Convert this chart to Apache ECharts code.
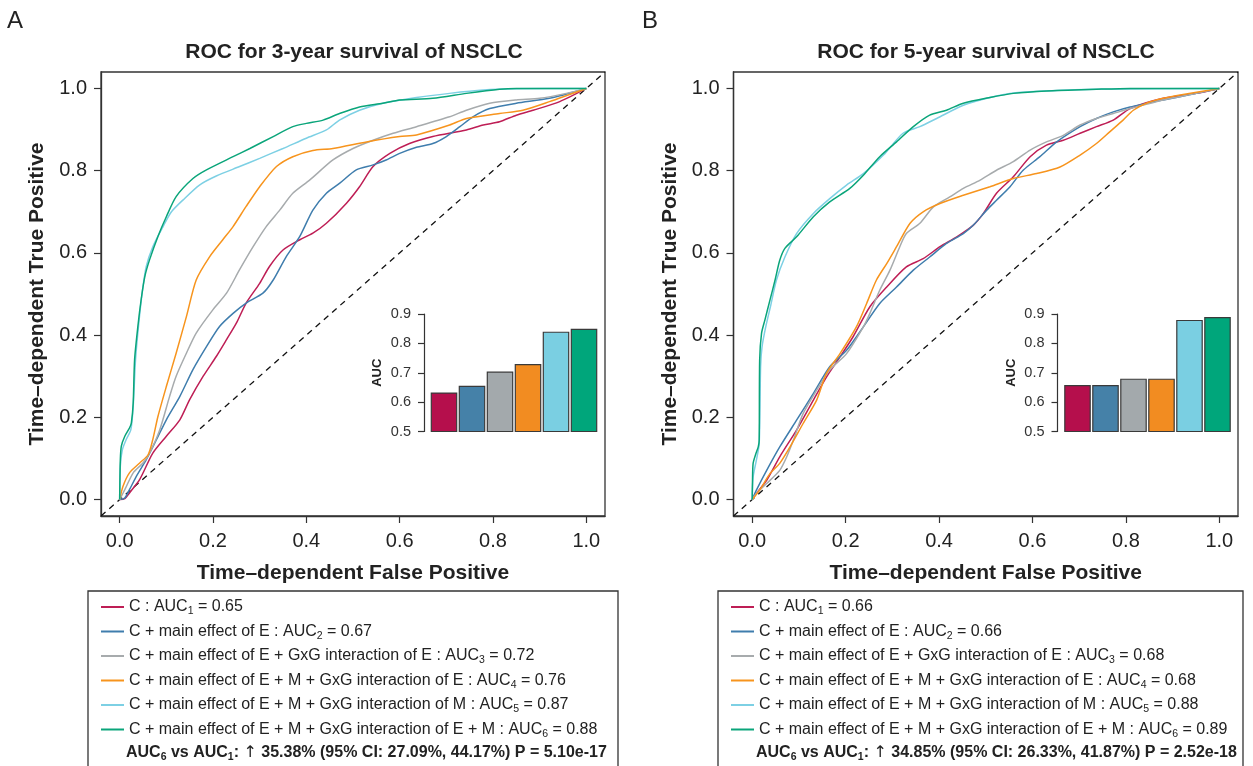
<!DOCTYPE html>
<html>
<head>
<meta charset="utf-8">
<script src="https://cdn.jsdelivr.net/npm/echarts@6/dist/echarts.min.js"></script>
<style>
  html, body { margin: 0; padding: 0; background: #fff; }
  #chart { width: 1253px; height: 766px; }
</style>
</head>
<body>
<div id="chart"></div>
<script>
// model names for the legend
const modelNames = [
  "C",
  "C + main effect of E",
  "C + main effect of E + GxG interaction of E",
  "C + main effect of E + M + GxG interaction of E",
  "C + main effect of E + M + GxG interaction of M",
  "C + main effect of E + M + GxG interaction of E + M"
];
const legendAuc3y = [0.65, 0.67, 0.72, 0.76, 0.87, 0.88];
const legendAuc5y = [0.66, 0.66, 0.68, 0.68, 0.88, 0.89];

// inset bar heights
const barAuc3y = [0.633, 0.656, 0.704, 0.73, 0.84, 0.85];
const barAuc5y = [0.658, 0.658, 0.68, 0.68, 0.88, 0.89];
const barCats = ["1", "2", "3", "4", "5", "6"];

const tickValues = [0, 0.2, 0.4, 0.6, 0.8, 1.0];

// 3-year ROC curves [FPR, TPR]
const roc3y_1 = [[0,0],[0.011,0.002],[0.021,0.016],[0.043,0.049],[0.071,0.113],[0.1,0.154],[0.129,0.194],[0.15,0.243],[0.179,0.3],[0.207,0.348],[0.229,0.389],[0.25,0.429],[0.271,0.478],[0.3,0.526],[0.321,0.567],[0.35,0.607],[0.386,0.632],[0.414,0.648],[0.443,0.672],[0.486,0.721],[0.514,0.761],[0.543,0.81],[0.579,0.842],[0.621,0.866],[0.671,0.883],[0.743,0.899],[0.779,0.911],[0.814,0.919],[0.85,0.935],[0.886,0.947],[0.943,0.968],[1,1]];
const roc3y_2 = [[0,0],[0.011,0.004],[0.021,0.024],[0.036,0.057],[0.057,0.097],[0.079,0.146],[0.1,0.194],[0.129,0.251],[0.157,0.316],[0.186,0.372],[0.214,0.421],[0.243,0.453],[0.271,0.478],[0.307,0.502],[0.329,0.534],[0.357,0.591],[0.386,0.64],[0.414,0.704],[0.443,0.745],[0.471,0.769],[0.507,0.802],[0.543,0.814],[0.571,0.826],[0.6,0.842],[0.636,0.857],[0.671,0.866],[0.7,0.883],[0.729,0.907],[0.757,0.931],[0.793,0.951],[0.85,0.964],[0.921,0.976],[1,1]];
const roc3y_3 = [[0,0],[0.011,0.024],[0.029,0.065],[0.05,0.089],[0.064,0.113],[0.086,0.17],[0.107,0.251],[0.121,0.3],[0.143,0.356],[0.164,0.405],[0.2,0.462],[0.229,0.502],[0.257,0.559],[0.286,0.615],[0.314,0.664],[0.343,0.704],[0.371,0.745],[0.407,0.777],[0.457,0.826],[0.5,0.854],[0.543,0.874],[0.586,0.891],[0.636,0.907],[0.707,0.931],[0.743,0.947],[0.793,0.964],[0.85,0.972],[0.9,0.976],[0.957,0.988],[1,1]];
const roc3y_4 = [[0,0],[0.007,0.032],[0.021,0.065],[0.043,0.089],[0.061,0.109],[0.071,0.146],[0.082,0.202],[0.1,0.275],[0.121,0.356],[0.143,0.445],[0.164,0.534],[0.193,0.591],[0.221,0.632],[0.243,0.664],[0.271,0.713],[0.3,0.761],[0.336,0.81],[0.371,0.834],[0.414,0.849],[0.457,0.854],[0.529,0.87],[0.6,0.883],[0.636,0.887],[0.707,0.911],[0.743,0.927],[0.814,0.939],[0.864,0.947],[0.921,0.968],[1,1]];
const roc3y_5 = [[0,0],[0.0014,0.081],[0.0057,0.121],[0.014,0.146],[0.024,0.17],[0.029,0.227],[0.034,0.34],[0.041,0.429],[0.049,0.51],[0.057,0.567],[0.071,0.615],[0.093,0.664],[0.111,0.7],[0.136,0.729],[0.171,0.765],[0.207,0.787],[0.257,0.81],[0.3,0.83],[0.35,0.854],[0.4,0.879],[0.443,0.899],[0.471,0.923],[0.514,0.947],[0.564,0.964],[0.636,0.978],[0.707,0.988],[0.779,0.996],[0.85,0.999],[1,1]];
const roc3y_6 = [[0,0],[0.0014,0.097],[0.0036,0.13],[0.011,0.154],[0.021,0.174],[0.025,0.186],[0.029,0.235],[0.032,0.34],[0.039,0.421],[0.046,0.486],[0.054,0.543],[0.064,0.583],[0.082,0.64],[0.1,0.688],[0.121,0.737],[0.157,0.781],[0.186,0.802],[0.243,0.834],[0.279,0.854],[0.329,0.883],[0.371,0.907],[0.4,0.915],[0.436,0.923],[0.471,0.939],[0.514,0.955],[0.564,0.964],[0.6,0.972],[0.671,0.976],[0.743,0.988],[0.814,0.998],[0.85,1],[1,1]];

// 5-year ROC curves [FPR, TPR]
const roc5y_1 = [[0,0],[0.009,0.015],[0.031,0.047],[0.059,0.104],[0.095,0.169],[0.131,0.242],[0.159,0.298],[0.188,0.347],[0.216,0.396],[0.252,0.469],[0.288,0.517],[0.33,0.566],[0.366,0.586],[0.402,0.615],[0.438,0.639],[0.473,0.667],[0.495,0.696],[0.523,0.745],[0.559,0.785],[0.595,0.834],[0.63,0.862],[0.666,0.874],[0.702,0.891],[0.737,0.907],[0.773,0.923],[0.809,0.951],[0.88,0.976],[0.951,0.988],[1,1]];
const roc5y_2 = [[0,0],[0.009,0.023],[0.031,0.071],[0.059,0.128],[0.095,0.193],[0.131,0.258],[0.166,0.323],[0.202,0.363],[0.238,0.42],[0.273,0.477],[0.309,0.517],[0.345,0.558],[0.38,0.59],[0.416,0.623],[0.452,0.647],[0.473,0.667],[0.502,0.704],[0.523,0.728],[0.552,0.761],[0.58,0.801],[0.616,0.834],[0.652,0.87],[0.702,0.907],[0.737,0.927],[0.773,0.943],[0.809,0.955],[0.88,0.972],[0.951,0.988],[1,1]];
const roc5y_3 = [[0,0],[0.009,0.015],[0.031,0.039],[0.059,0.071],[0.074,0.104],[0.088,0.144],[0.109,0.209],[0.138,0.266],[0.166,0.315],[0.202,0.355],[0.238,0.42],[0.252,0.453],[0.273,0.509],[0.295,0.558],[0.316,0.615],[0.33,0.647],[0.359,0.672],[0.388,0.712],[0.423,0.736],[0.452,0.757],[0.488,0.777],[0.523,0.801],[0.559,0.822],[0.595,0.85],[0.63,0.87],[0.666,0.886],[0.702,0.911],[0.737,0.927],[0.773,0.939],[0.809,0.951],[0.88,0.972],[0.951,0.988],[1,1]];
const roc5y_4 = [[0,0],[0.016,0.023],[0.038,0.063],[0.059,0.088],[0.081,0.128],[0.109,0.185],[0.138,0.242],[0.159,0.307],[0.188,0.355],[0.223,0.42],[0.245,0.477],[0.266,0.534],[0.288,0.574],[0.309,0.615],[0.338,0.672],[0.366,0.7],[0.402,0.72],[0.452,0.74],[0.509,0.761],[0.559,0.781],[0.609,0.793],[0.659,0.809],[0.702,0.838],[0.737,0.866],[0.766,0.895],[0.794,0.923],[0.816,0.947],[0.844,0.964],[0.88,0.976],[0.916,0.984],[1,1]];
const roc5y_5 = [[0,0],[0.002,0.055],[0.009,0.096],[0.015,0.136],[0.018,0.323],[0.021,0.371],[0.029,0.42],[0.039,0.469],[0.052,0.534],[0.07,0.59],[0.095,0.647],[0.131,0.696],[0.166,0.732],[0.202,0.765],[0.238,0.793],[0.281,0.838],[0.323,0.891],[0.359,0.907],[0.395,0.927],[0.452,0.959],[0.509,0.978],[0.559,0.989],[0.63,0.994],[0.737,0.998],[1,1]];
const roc5y_6 = [[0,0],[0.0007,0.047],[0.002,0.088],[0.008,0.112],[0.013,0.128],[0.015,0.144],[0.016,0.339],[0.02,0.404],[0.027,0.436],[0.038,0.485],[0.049,0.534],[0.059,0.582],[0.07,0.611],[0.095,0.639],[0.131,0.688],[0.166,0.724],[0.209,0.757],[0.238,0.789],[0.273,0.834],[0.309,0.87],[0.345,0.907],[0.38,0.935],[0.416,0.947],[0.452,0.964],[0.509,0.978],[0.559,0.988],[0.63,0.994],[0.737,0.998],[0.809,1],[1,1]];

const diagonal = [[-0.04, -0.04], [1.04, 1.04]];

const lineColors = ["#BE1E55", "#3F7DAD", "#A7ABAD", "#F7941D", "#7DD0E4", "#0AA57A"];
const barColors = ["#B50F4C", "#4581A8", "#A3A9AC", "#F28C21", "#7ACFE2", "#00A67B"];
const font = "'Liberation Sans', Arial, Helvetica, sans-serif";
const ink = "#222";

const curves3y = [roc3y_1, roc3y_2, roc3y_3, roc3y_4, roc3y_5, roc3y_6];
const curves5y = [roc5y_1, roc5y_2, roc5y_3, roc5y_4, roc5y_5, roc5y_6];
const names3y = modelNames.map((m, i) => m + " : AUC" + (i + 1) + " = " + legendAuc3y[i].toFixed(2));
const names5y = modelNames.map((m, i) => m + " : AUC" + (i + 1) + " = " + legendAuc5y[i].toFixed(2));

let chart = echarts.init(document.getElementById("chart"));

// main plot axes (axis line sits on the grid border)
function mainX(gi) {
  return {
    type: "value", gridIndex: gi, min: -0.04, max: 1.04,
    name: "Time\u2013dependent False Positive", nameLocation: "middle", nameGap: 47,
    nameTextStyle: { fontSize: 21, fontWeight: "bold", color: ink, fontFamily: font },
    axisLine: { show: true, onZero: false, lineStyle: { color: "#333", width: 1.3 } },
    axisTick: { show: true, length: 7, customValues: tickValues, lineStyle: { color: "#333", width: 1.2 } },
    axisLabel: { customValues: tickValues, margin: 15, fontSize: 20, color: ink, fontFamily: font,
      formatter: v => v.toFixed(1) },
    splitLine: { show: false }
  };
}
function mainY(gi) {
  return {
    type: "value", gridIndex: gi, min: -0.04, max: 1.04,
    name: "Time\u2013dependent True Positive", nameLocation: "middle", nameGap: 53,
    nameTextStyle: { fontSize: 21, fontWeight: "bold", color: ink, fontFamily: font },
    axisLine: { show: true, onZero: false, lineStyle: { color: "#333", width: 1.3 } },
    axisTick: { show: true, length: 7, customValues: tickValues, lineStyle: { color: "#333", width: 1.2 } },
    axisLabel: { customValues: tickValues, margin: 14, fontSize: 20, color: ink, fontFamily: font,
      formatter: v => v.toFixed(1) },
    splitLine: { show: false }
  };
}
function insetX(gi) {
  return { type: "category", gridIndex: gi, data: barCats, show: false };
}
function insetY(gi) {
  return {
    type: "value", gridIndex: gi, min: 0.5, max: 0.9, interval: 0.1, offset: 6,
    name: "AUC", nameLocation: "middle", nameGap: 40,
    nameTextStyle: { fontSize: 13, fontWeight: "bold", color: ink, fontFamily: font },
    axisLine: { show: true, onZero: false, lineStyle: { color: "#333", width: 1.2 } },
    axisTick: { show: true, length: 6, lineStyle: { color: "#333", width: 1.2 } },
    axisLabel: { margin: 13, fontSize: 14.5, color: "#333", fontFamily: font, formatter: v => v.toFixed(1) },
    splitLine: { show: false }
  };
}

let series = [];
function addPanel(curves, names, xi, bars, bi) {
  series.push({
    type: "line", xAxisIndex: xi, yAxisIndex: xi, data: diagonal, symbol: "none", silent: true,
    lineStyle: { color: "#111", width: 1.3, type: [6, 5] }, z: 1
  });
  curves.forEach((c, i) => {
    series.push({
      name: names[i], type: "line", xAxisIndex: xi, yAxisIndex: xi, data: c,
      symbol: "none", smooth: 0.25, color: lineColors[i],
      lineStyle: { color: lineColors[i], width: 1.5 }, z: 2
    });
  });
  series.push({
    type: "bar", xAxisIndex: bi, yAxisIndex: bi, data: bars, barCategoryGap: "5%", silent: true,
    itemStyle: { color: p => barColors[p.dataIndex], borderColor: "#3a3a3a", borderWidth: 1.2 }
  });
}
addPanel(curves3y, names3y, 0, barAuc3y, 2);
addPanel(curves5y, names5y, 1, barAuc5y, 3);

function legendFor(names, left) {
  return {
    data: names, orient: "vertical", left: left, top: 594, itemGap: 6.5,
    itemWidth: 23, itemHeight: 2, icon: "rect", selectedMode: false,
    formatter: n => "{n|" + n.replace(/AUC(\d)/, "AUC}{s|$1}{n|") + "}",
    textStyle: {
      rich: {
        n: { fontSize: 16, lineHeight: 20, color: ink, fontFamily: font },
        s: { fontSize: 10.5, lineHeight: 20, verticalAlign: "bottom", color: ink, fontFamily: font }
      }
    }
  };
}

function compareText(x, up, ci, p) {
  return {
    type: "text", x: x, y: 753,
    style: {
      text: "{b|AUC}{bs|6}{b| vs AUC}{bs|1}{b|: }{a|\u2191}{b| " + up + " (95% CI: " + ci + ") P = " + p + "}",
      verticalAlign: "middle",
      rich: {
        b: { fontSize: 16, fontWeight: "bold", lineHeight: 20, fill: ink, fontFamily: font },
        bs: { fontSize: 10.5, fontWeight: "bold", lineHeight: 20, verticalAlign: "bottom", fill: ink, fontFamily: font },
        a: { fontSize: 16, lineHeight: 20, fill: ink, fontFamily: "'DejaVu Sans', sans-serif" }
      }
    }
  };
}

let option = {
  backgroundColor: "#fff",
  animation: false,
  grid: [
    { left: 101, top: 72, width: 504, height: 444, show: true, borderColor: "#333", borderWidth: 1.3, containLabel: false },
    { left: 733.5, top: 72, width: 504.5, height: 444, show: true, borderColor: "#333", borderWidth: 1.3, containLabel: false },
    { left: 430, top: 314, width: 168, height: 117.5 },
    { left: 1063.5, top: 314, width: 168, height: 117.5 }
  ],
  xAxis: [mainX(0), mainX(1), insetX(2), insetX(3)],
  yAxis: [mainY(0), mainY(1), insetY(2), insetY(3)],
  legend: [legendFor(names3y, 96), legendFor(names5y, 726)],
  series: series,
  graphic: [
    { type: "text", x: 15, y: 21, style: { text: "A", fontSize: 24, fill: ink, fontFamily: font, align: "center", verticalAlign: "middle" } },
    { type: "text", x: 650, y: 21, style: { text: "B", fontSize: 24, fill: ink, fontFamily: font, align: "center", verticalAlign: "middle" } },
    { type: "text", x: 354, y: 52, style: { text: "ROC for 3-year survival of NSCLC", fontSize: 21, fontWeight: "bold", fill: ink, fontFamily: font, align: "center", verticalAlign: "middle" } },
    { type: "text", x: 986, y: 52, style: { text: "ROC for 5-year survival of NSCLC", fontSize: 21, fontWeight: "bold", fill: ink, fontFamily: font, align: "center", verticalAlign: "middle" } },
    { type: "rect", shape: { x: 88, y: 591, width: 530, height: 220 }, style: { fill: "none", stroke: "#333", lineWidth: 1.3 } },
    { type: "rect", shape: { x: 718, y: 591, width: 525, height: 220 }, style: { fill: "none", stroke: "#333", lineWidth: 1.3 } },
    compareText(126, "35.38%", "27.09%, 44.17%", "5.10e-17"),
    compareText(756, "34.85%", "26.33%, 41.87%", "2.52e-18")
  ]
};

chart.setOption(option);
</script>
</body>
</html>
